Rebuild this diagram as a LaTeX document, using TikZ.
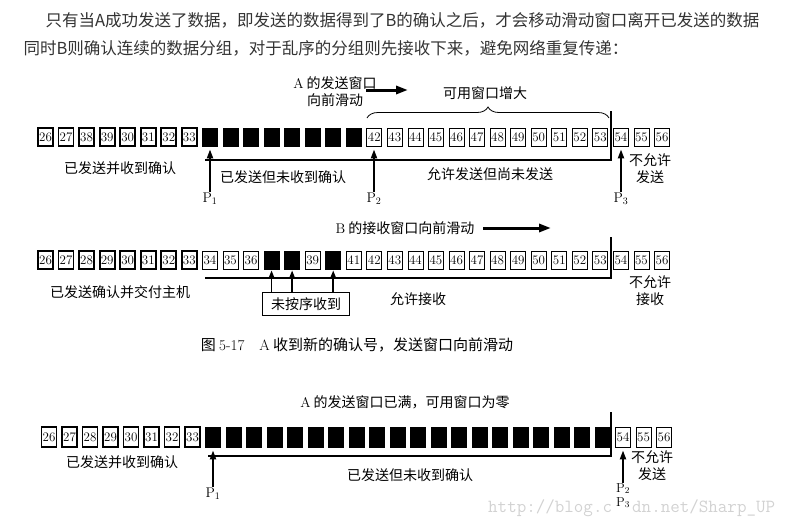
\documentclass[tikz,border=0pt]{standalone}
\usepackage{fontspec}
\newfontfamily\cjk{Noto Sans CJK SC}
\usetikzlibrary{
    arrows.meta,
    decorations.pathreplacing,
    positioning
}
\definecolor{webtext}{HTML}{333333}
\tikzset{
  cell/.style={draw,line width=0.8pt,minimum width=15pt,minimum height=18pt,inner sep=0pt,font=\fontsize{13}{13}\selectfont},
  oldcell/.style={cell,line width=1.8pt},
  sentcell/.style={cell,fill=black},
  ptr/.style={-{Triangle[length=9pt,width=6pt]},line width=2pt,shorten >=3pt},
  slide/.style={-{Triangle[length=12pt,width=8pt]},line width=3pt},
  lbl/.style={font=\cjk\fontsize{14}{17}\selectfont,align=center,inner sep=0pt},
  plbl/.style={font=\fontsize{14}{16}\selectfont,align=center,inner sep=0pt},
  wmark/.style={font=\ttfamily\fontsize{18.5}{19}\selectfont,text=gray!35,anchor=west,inner sep=0pt},
  edge/.style={line width=1.3pt}
}

\begin{document}
\begin{tikzpicture}[x=1pt,y=-1pt]
\useasboundingbox (0,0) rectangle (791,528);

\node[font=\cjk\fontsize{16.5}{18}\selectfont,text=webtext,anchor=west] (intro1) at (42,20) {只有当A成功发送了数据，即发送的数据得到了B的确认之后，才会移动滑动窗口离开已发送的数据};
\node[font=\cjk\fontsize{16.5}{18}\selectfont,text=webtext,anchor=west] (intro2) at (20,48) {同时B则确认连续的数据分组，对于乱序的分组则先接收下来，避免网络重复传递：};

% row 1
\foreach \n [count=\i from 0] in {26,27,38,39,30,31,32,33}
  \node[oldcell] (a\i) at ({45.5+20.55*\i},137) {\n};
\foreach \i in {8,...,15}
  \node[sentcell] (a\i) at ({45.5+20.55*\i},137) {};
\foreach \n [count=\i from 16] in {42,...,56}
  \node[cell] (a\i) at ({45.5+20.55*\i},137) {\n};

\coordinate (aL) at (205,160);
\coordinate (aR) at (611,160);
\coordinate (aT) at (611,111);
\draw[edge] (aL) -- (aR) -- (aT);

\node[lbl] (aslide) at (335,92) {\textrm{A} 的发送窗口\\向前滑动};
\coordinate (asA) at (366,90);
\coordinate (asB) at (408,90);
\draw[slide] (asA) -- (asB);
\coordinate (brL) at (367,118);
\coordinate (brR) at (609,118);
\draw[line width=0.8pt,decorate,decoration={brace,amplitude=11pt}] (brL) -- (brR);
\node[lbl] (agrow) at (485,93) {可用窗口增大};

\coordinate (p1) at (210,192);
\coordinate (p2) at (374,192);
\coordinate (p3) at (621,192);
\draw[ptr] (p1) -- (p1 |- a8.south);
\draw[ptr] (p2) -- (p2 |- a16.south);
\draw[ptr] (p3) -- (p3 |- a28.south);
\node[plbl,below=1pt of p1] (p1l) {$\mathrm{P}_1$};
\node[plbl,below=1pt of p2] (p2l) {$\mathrm{P}_2$};
\node[plbl,below=1pt of p3] (p3l) {$\mathrm{P}_3$};

\node[lbl] (adone) at (120,168) {已发送并收到确认};
\node[lbl] (await) at (283,177) {已发送但未收到确认};
\node[lbl] (afree) at (490,174) {允许发送但尚未发送};
\node[lbl] (adeny) at (650,169) {不允许\\发送};

% row 2
\node[lbl] (bslide) at (405,228) {\textrm{B} 的接收窗口向前滑动};
\coordinate (bsA) at (483,228);
\coordinate (bsB) at (551,228);
\draw[slide] (bsA) -- (bsB);

\foreach \n [count=\i from 0] in {26,...,33}
  \node[oldcell] (b\i) at ({45.5+20.55*\i},260) {\n};
\foreach \n [count=\i from 8] in {34,35,36,,,39,,41,42,43,44,45,46,47,48,49,50,51,52,53,54,55,56}
  \node[cell] (b\i) at ({45.5+20.55*\i},260) {\n};
\foreach \i in {11,12,14}
  \node[sentcell] (b\i) at ({45.5+20.55*\i},260) {};

\coordinate (bL) at (205,278);
\coordinate (bR) at (611,278);
\coordinate (bT) at (611,237);
\draw[edge] (bL) -- (bR) -- (bT);

\node[draw,line width=0.8pt,minimum width=87pt,minimum height=23pt,inner sep=0pt,font=\cjk\fontsize{14}{17}\selectfont] (miss) at (306,304) {未按序收到};
\foreach \i in {11,12,14}
  \draw[-{Triangle[length=7pt,width=5pt]},line width=1.5pt,shorten >=1pt] (b\i |- miss.north) -- (b\i.south);

\node[lbl] (bdone) at (120,292) {已发送确认并交付主机};
\node[lbl] (bfree) at (418,299) {允许接收};
\node[lbl] (bdeny) at (650,291) {不允许\\接收};

\node[font=\cjk\fontsize{15}{17}\selectfont,inner sep=0pt] (cap) at (357,345) {图 \textrm{5-17}\quad \textrm{A} 收到新的确认号，发送窗口向前滑动};

% row 3
\node[wmark] (wm1) at (488,508) {http://blog.c};
\node[wmark] (wm2) at (632,508) {dn.net/Sharp\_UP};

\node[lbl] (cfull) at (405,402) {\textrm{A} 的发送窗口已满，可用窗口为零};

\foreach \n [count=\i from 0] in {26,...,33}
  \node[oldcell,minimum height=20pt] (c\i) at ({49+20.5*\i},437) {\n};
\foreach \i in {8,...,27}
  \node[sentcell,minimum height=20pt] (c\i) at ({49+20.5*\i},437) {};
\foreach \n [count=\i from 28] in {54,55,56}
  \node[cell,minimum height=20pt] (c\i) at ({49+20.5*\i},437) {\n};

\coordinate (cL) at (208,456);
\coordinate (cR) at (611,456);
\coordinate (cT) at (611,412);
\draw[edge] (cL) -- (cR) -- (cT);

\coordinate (q1) at (213,487);
\coordinate (q23) at (623,483);
\draw[ptr] (q1) -- (q1 |- c8.south);
\draw[ptr] (q23) -- (q23 |- c28.south);
\node[plbl,below=1pt of q1] (q1l) {$\mathrm{P}_1$};
\node[plbl,below=0pt of q23,font=\fontsize{13}{14}\selectfont] (q23l) {$\mathrm{P}_2$\\$\mathrm{P}_3$};

\node[lbl] (cdone) at (122,462) {已发送并收到确认};
\node[lbl] (cwait) at (410,475) {已发送但未收到确认};
\node[lbl] (cdeny) at (652,466) {不允许\\发送};
\end{tikzpicture}
\end{document}
